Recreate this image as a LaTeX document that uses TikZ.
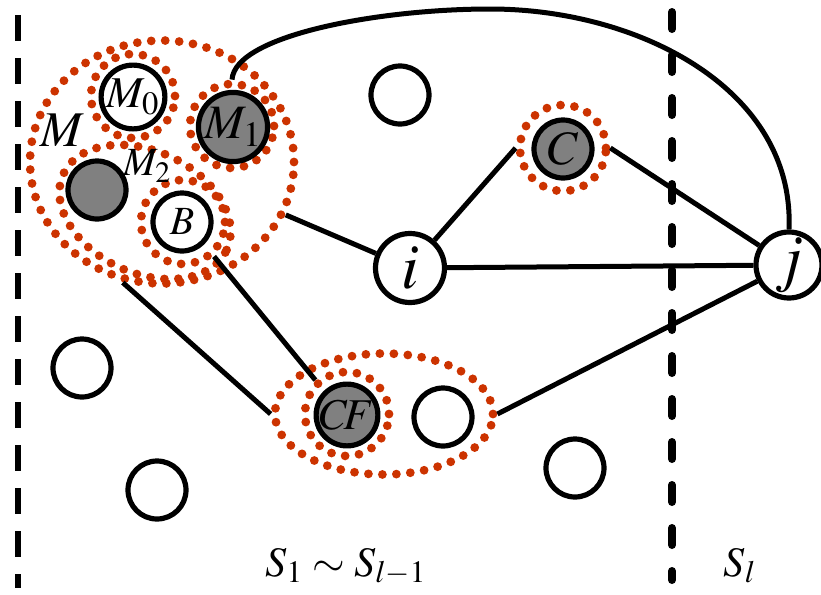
\documentclass[tikz,border=0pt]{standalone}
\usepackage{mathptmx}
\usetikzlibrary{shapes.geometric}
\definecolor{dotred}{RGB}{204,51,0}
\tikzstyle{wcont}=[circle,draw=black,line width=2.6pt,fill=white,inner sep=0pt,minimum size=29pt,font=\fontsize{22pt}{26pt}\selectfont]
\tikzstyle{gcont}=[wcont,fill=gray]
\tikzstyle{dring}=[circle,draw=dotred,line width=4.4pt,line cap=round,dash pattern=on 0pt off 7pt,inner sep=0pt,minimum size=42pt]
\tikzstyle{dell}=[ellipse,draw=dotred,line width=4.4pt,line cap=round,dash pattern=on 0pt off 7pt,inner sep=0pt]
\tikzstyle{link}=[line width=2.5pt]
\tikzstyle{lbl}=[inner sep=0pt,font=\fontsize{21pt}{25pt}\selectfont]

\begin{document}
\begin{tikzpicture}[x=0.5pt,y=-0.5pt]
\useasboundingbox (0,0) rectangle (821,595);
% set borders
\draw[line width=3pt,dash pattern=on 13pt off 8.5pt] (18,15) -- (18,588);
\draw[line width=4pt,line cap=round,dash pattern=on 8.5pt off 13pt] (672,12) -- (672,580);
% dotted groups
\node[dell,minimum width=132pt,minimum height=121.5pt] (Mbig) at (162,162) {};
\node[dell,minimum width=90pt,minimum height=61pt,rotate=-25] (M2ell) at (145,212) {};
\node[dring] (M0ring) at (133,96) {};
\node[dring] (M1ring) at (232,126) {};
\node[dring] (Bring) at (183,222) {};
\node[dring,minimum size=43pt] (Cring) at (563,148) {};
\node[dring] (CFring) at (347,414) {};
\node[dell,minimum width=109pt,minimum height=60.5pt] (CFbig) at (384,414) {};
% nodes
\node[wcont] (M0) at (133,97) {$M_0$};
\node[gcont,minimum size=31.5pt,font=\fontsize{24pt}{28pt}\selectfont] (M1) at (233,127) {$M_1$};
\node[gcont] (M2) at (97,190) {};
\node[wcont,font=\fontsize{20pt}{24pt}\selectfont] (B) at (182,222) {$B$};
\node[gcont,font=\fontsize{24pt}{28pt}\selectfont] (C) at (563,149) {$C$};
\node[gcont,font=\fontsize{22pt}{26pt}\selectfont] (CF) at (347,415) {$C\!F$};
\node[wcont] (E1) at (443,417) {};
\node[wcont,minimum size=34.5pt,font=\fontsize{32pt}{36pt}\selectfont] (i) at (410,268) {$i$};
\node[wcont,minimum size=33pt,font=\fontsize{32pt}{36pt}\selectfont] (j) at (789,265) {$j$};
\node[wcont] (E2) at (400,95) {};
\node[wcont] (E3) at (82,368) {};
\node[wcont] (E4) at (157,490) {};
\node[wcont] (E5) at (575,468) {};
% labels
\node[lbl,font=\fontsize{25pt}{29pt}\selectfont] (Mlab) at (62,130) {$M$};
\node[lbl,font=\fontsize{20pt}{24pt}\selectfont] (M2lab) at (147,166) {$M_2$};
\node[lbl,anchor=base] (S1lab) at (346,576) {$S_1\sim S_{l-1}$};
\node[lbl,anchor=base] (Sllab) at (740,576) {$S_l$};
% links
\coordinate (arctop) at (490,9);
\draw[link] (M1ring.north) .. controls (235,35) and (380,9) .. (arctop) .. controls (640,9) and (795,90) .. (j.north);
\draw[link] (Mbig) -- (i);
\draw[link] (i) -- (Cring.west);
\draw[link] (Cring.east) -- (j);
\draw[link] (i) -- (j);
\draw[link] (Mbig.252) -- (CFbig.west);
\draw[link] (Bring.312) -- (CFring.133);
\draw[link] (CFbig.east) -- (j);
\end{tikzpicture}
\end{document}
